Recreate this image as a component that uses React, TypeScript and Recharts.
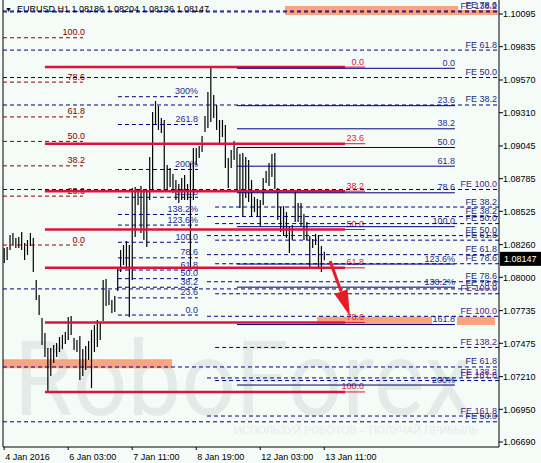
import React from 'react';
import { ComposedChart, Bar, XAxis, YAxis, ReferenceLine, ReferenceArea } from 'recharts';

const FONT = '"Liberation Sans", Arial, sans-serif';
const BG = '#f5fcf8';

// H1 bars (high / low)
const highs = [
  1.08233, 1.08241, 1.08337, 1.08353, 1.08313, 1.08321, 1.08361, 1.08273, 1.08297, 1.08353,
  1.08313, 1.07979, 1.07859, 1.07676, 1.07557, 1.07438, 1.07438, 1.07462, 1.07477, 1.07525,
  1.07541, 1.07565, 1.07684, 1.07692, 1.07517, 1.07501, 1.07533, 1.0743, 1.07454, 1.07493,
  1.07581, 1.07621, 1.0766, 1.07645, 1.07979, 1.07987, 1.07899, 1.0782, 1.07851, 1.08082,
  1.08217, 1.08257, 1.08289, 1.08257, 1.08711, 1.08719, 1.08703, 1.08727, 1.08695, 1.08679,
  1.08957, 1.09315, 1.09403, 1.09363, 1.09268, 1.09252, 1.08894, 1.0887, 1.08822, 1.08774,
  1.08743, 1.0879, 1.08814, 1.08743, 1.0891, 1.09029, 1.09029, 1.09045, 1.09124, 1.09284,
  1.09474, 1.09681, 1.09451, 1.09371, 1.09252, 1.09252, 1.09212, 1.08949, 1.09013, 1.09085,
  1.09029, 1.08981, 1.08989, 1.08957, 1.08933, 1.08774, 1.08639, 1.08623, 1.08615, 1.0879,
  1.08846, 1.0891, 1.08981, 1.08989, 1.08711, 1.0856, 1.08567, 1.0852, 1.08408, 1.08416,
  1.08695, 1.08591, 1.08591, 1.08504, 1.0844, 1.08329, 1.08305, 1.08345, 1.08337, 1.08249,
  1.08204,
];
const lows = [
  1.08114, 1.08138, 1.08217, 1.08257, 1.08233, 1.08233, 1.08217, 1.08138, 1.08178, 1.08249,
  1.08042, 1.0782, 1.077, 1.07462, 1.07366, 1.07088, 1.07215, 1.07318, 1.07366, 1.07406,
  1.0743, 1.07469, 1.07501, 1.07541, 1.07422, 1.07406, 1.07183, 1.07215, 1.07263, 1.07342,
  1.07119, 1.07406, 1.07446, 1.07501, 1.07652, 1.07772, 1.0778, 1.07716, 1.07724, 1.07891,
  1.08042, 1.08098, 1.08074, 1.07684, 1.07979, 1.08321, 1.08575, 1.08353, 1.08297, 1.08241,
  1.08615, 1.08695, 1.09212, 1.09172, 1.09148, 1.08695, 1.08695, 1.08719, 1.08671, 1.08615,
  1.08591, 1.08615, 1.08615, 1.08615, 1.08074, 1.08615, 1.08894, 1.08949, 1.08997, 1.09156,
  1.09188, 1.09236, 1.09268, 1.09172, 1.09069, 1.09116, 1.0887, 1.08711, 1.0887, 1.08933,
  1.08695, 1.08552, 1.08488, 1.08631, 1.08599, 1.0848, 1.0852, 1.08488, 1.08408, 1.08575,
  1.0875, 1.08727, 1.08798, 1.08703, 1.08456, 1.08361, 1.08329, 1.08313, 1.08194, 1.08297,
  1.0844, 1.0844, 1.08408, 1.08297, 1.08297, 1.08082, 1.08233, 1.08257, 1.08074, 1.08042,
  1.08136,
];

const dateTicks = [0, 22, 44, 66, 88, 110];
const dateLabels = ['4 Jan 2016', '6 Jan 03:00', '7 Jan 11:00', '8 Jan 19:00', '12 Jan 03:00', '13 Jan 11:00'];
const priceTicks = [1.10095, 1.09835, 1.0957, 1.0931, 1.09045, 1.08785, 1.08525, 1.0826, 1.08, 1.07735, 1.07475, 1.0721, 1.0695, 1.0669];
const lastPrice = 1.08147;
const headerText = 'EURUSD,H1 1.08186 1.08204 1.08136 1.08147';

// fibo grids: [first bar, last bar, price at 0%, price at 100%]
const leftFibo = [-0.4, 27.1, 1.08257, 1.09906];
const leftLevels = [0, 23.6, 38.2, 50, 61.8, 78.6, 100];
const leftLabels = ['0.0', '23.6', '38.2', '50.0', '61.8', '78.6', '100.0'];

const redFibo = [14.0, 124.0, 1.09673, 1.07088];
const redLevels = [0, 23.6, 38.2, 50, 61.8, 78.6, 100];
const redLabels = ['0.0', '23.6', '38.2', '50.0', '61.8', '78.6', '100.0'];

const navyFibo = [80.0, 154.9, 1.09663, 1.08403];
const navyLevels = [0, 23.6, 38.2, 50, 61.8, 78.6, 100, 123.6, 138.2, 161.8, 200];
const navyLabels = ['0.0', '23.6', '38.2', '50.0', '61.8', '78.6', '100.0', '123.6%', '138.2%', '161.8', '200%'];

const midFibo = [39.1, 66.6, 1.077, 1.08279];
const midLevels = [0, 23.6, 38.2, 50, 61.8, 78.6, 100, 123.6, 138.2, 161.8, 200, 261.8, 300];
const midLabels = ['0.0', '23.6', '38.2', '50.0', '61.8', '78.6', '100.0', '123.6%', '138.2%', '161.8', '200%', '261.8', '300%'];

// fibo expansions
const fe1 = [-0.4, 170.05, 1.08664, 1.10515];
const fe1Levels = [38.2, 50, 61.8, 78.6];
const fe2 = [-0.4, 170.05, 1.05002, 1.08699];
const fe2Levels = [50, 61.8, 78.6, 100, 138.2];
const fe3 = [69.7, 170.05, 1.08974, 1.0769];
const fe3Levels = [38.2, 50, 61.8, 78.6, 100, 138.2, 161.8];
const fe4 = [72.5, 170.05, 1.08986, 1.07869];
const fe4Levels = [38.2, 50, 61.8, 78.6, 100, 138.2, 161.8];

// target zones [x1, x2, top, bottom]
const zones = [
  [96.5, 156.0, 1.10159, 1.10127],
  [96.5, 169.7, 1.10127, 1.10087],
  [107.5, 147.0, 1.07687, 1.07621],
  [155.6, 168.7, 1.07687, 1.07621],
  [-0.4, 57.7, 1.07348, 1.07277],
];
const arrow = [112.0, 1.0813, 118.8, 1.07692];

const bars = highs.map((h, i) => ({ i, range: [lows[i], h] }));

const rows = (a: number[], levels: number[], labels: string[]) =>
  levels.map((lv, k) => ({ x1: a[0], x2: a[1], price: a[2] + ((a[3] - a[2]) * lv) / 100, label: labels[k], lv }));

const feLabels = (levels: number[]) => levels.map((l) => 'FE ' + l.toFixed(1));

const levelShape = (label: string, o: any) => (p: any) => {
  const { x1, y1, x2 } = p;
  return (
    <g>
      {o.thin ? (
        <>
          <line x1={x1} y1={y1} x2={x2 - 20} y2={y1} stroke={o.color} strokeWidth={o.width} />
          <line x1={x2 - 20} y1={y1} x2={x2} y2={y1} stroke={o.color} strokeWidth={1} />
        </>
      ) : (
        <line x1={x1} y1={y1} x2={x2} y2={y1} stroke={o.color} strokeWidth={o.width} strokeDasharray={o.dash} />
      )}
      <text x={x2 - o.pad} y={y1 - 2.5} textAnchor="end" fill={o.text} fontSize={9} fontFamily={FONT}>
        {label}
      </text>
    </g>
  );
};

const ArrowShape = (p: any) => {
  const { x1, y1, x2, y2 } = p;
  const dx = x2 - x1, dy = y2 - y1;
  const len = Math.hypot(dx, dy);
  const ux = dx / len, uy = dy / len;
  const hl = 26, hw = 7;
  const bx = x2 - ux * hl, by = y2 - uy * hl;
  return (
    <g>
      <line x1={x1} y1={y1} x2={bx} y2={by} stroke="#e51c23" strokeWidth={3} />
      <polygon points={`${x2},${y2} ${bx - uy * hw},${by + ux * hw} ${bx + uy * hw},${by - ux * hw}`} fill="#e51c23" />
    </g>
  );
};

const PriceBox = (p: any) => {
  const right = Math.max(p.x1, p.x2);
  return (
    <g>
      <rect x={right + 1} y={p.y1 - 7} width={42} height={14} fill="#000" />
      <text x={right + 5} y={p.y1 + 3.5} fill="#fff" fontSize={9} fontFamily={FONT}>
        {lastPrice.toFixed(5)}
      </text>
    </g>
  );
};

const Stick = (p: any) => {
  const { x, y, width, height } = p;
  const cx = x + width / 2;
  return <line x1={cx} x2={cx} y1={Math.min(y, y + height)} y2={Math.max(y, y + height)} stroke="#000" strokeWidth={1.2} />;
};

const XTick = (p: any) => {
  const k = dateTicks.indexOf(p.payload.value);
  return (
    <text x={p.x + 1} y={p.y + 7.5} fontSize={9} fontFamily={FONT} fill="#000">
      {dateLabels[k]}
    </text>
  );
};

const YTick = (p: any) => (
  <text x={p.x - 2} y={p.y + 3.3} fontSize={9} fontFamily={FONT} fill="#000">
    {Number(p.payload.value).toFixed(5)}
  </text>
);

const seg = (r: any) => [
  { x: r.x1, y: r.price },
  { x: r.x2, y: r.price },
];

export default function App() {
  const navy = '#000080';
  const purple = '#4b1c8c';
  const feStyle = (lv: number) => ({ color: navy, width: 1, dash: '4 3', text: lv >= 100 ? purple : '#1a2a80', pad: 2 });
  const feRows = [
    ...rows(fe1, fe1Levels, feLabels(fe1Levels)),
    ...rows(fe2, fe2Levels, feLabels(fe2Levels)),
    ...rows(fe3, fe3Levels, feLabels(fe3Levels)),
    ...rows(fe4, fe4Levels, feLabels(fe4Levels)),
  ];
  return (
    <div style={{ position: 'absolute', left: 0, top: 0, width: 541, height: 463, background: BG, overflow: 'hidden' }}>
      <svg width={541} height={463} style={{ position: 'absolute', left: 0, top: 0 }}>
        <text x={14} y={415} fontSize={104} fontFamily="Roboto, sans-serif" fill="#e3ebe8" textLength={458} lengthAdjust="spacingAndGlyphs">
          RoboForex
        </text>
        <text x={234} y={434} fontSize={11} fontFamily={FONT} fill="#e6edea" textLength={244} lengthAdjust="spacingAndGlyphs">
          ИСПОЛЬЗУЙ РОБОТОВ – ПОЛУЧАЙ ПРИБЫЛЬ
        </text>
      </svg>
      <div style={{ position: 'absolute', left: 0, top: 0 }}>
        <ComposedChart width={541} height={463} data={bars} margin={{ top: 0, right: 0, bottom: 0, left: 3 }}>
          <XAxis
            dataKey="i"
            type="number"
            domain={[-0.4, 170.05]}
            ticks={dateTicks}
            interval={0}
            allowDataOverflow
            height={16}
            tickSize={3}
            axisLine={{ stroke: '#000' }}
            tickLine={{ stroke: '#000' }}
            tick={<XTick />}
          />
          <YAxis
            orientation="right"
            type="number"
            domain={[1.066501, 1.102064]}
            ticks={priceTicks}
            interval={0}
            allowDataOverflow
            width={42}
            tickSize={4}
            axisLine={{ stroke: '#000' }}
            tickLine={{ stroke: '#000' }}
            tick={<YTick />}
          />
          <ReferenceLine x={-0.4} stroke="#000" ifOverflow="visible" />
          {rows(leftFibo, leftLevels, leftLabels).map((r, k) => (
            <ReferenceLine key={'l' + k} segment={seg(r)} ifOverflow="visible"
              shape={levelShape(r.label, { color: '#8b0000', width: 1, dash: '4 3', text: '#800000', pad: -2 })} />
          ))}
          {rows(midFibo, midLevels, midLabels).map((r, k) => (
            <ReferenceLine key={'m' + k} segment={seg(r)} ifOverflow="visible"
              shape={levelShape(r.label, { color: navy, width: 1, dash: '4 3', text: '#1f2f90', pad: 0 })} />
          ))}
          {rows(redFibo, redLevels, redLabels).map((r, k) => (
            <ReferenceLine key={'r' + k} segment={seg(r)} ifOverflow="visible"
              shape={levelShape(r.label, { color: '#dc143c', width: 2.5, thin: true, text: '#e0163f', pad: 1 })} />
          ))}
          {zones.map((z, k) => (
            <ReferenceArea key={'z' + k} x1={z[0]} x2={z[1]} y1={z[3]} y2={z[2]} fill="#f9a47e" fillOpacity={1} stroke="none" ifOverflow="visible" />
          ))}
          {rows(navyFibo, navyLevels, navyLabels).map((r, k) => (
            <ReferenceLine key={'n' + k} segment={seg(r)} ifOverflow="visible"
              shape={levelShape(r.label, { color: navy, width: 1, text: '#1f2f90', pad: 0 })} />
          ))}
          {feRows.map((r, k) => (
            <ReferenceLine key={'f' + k} segment={seg(r)} ifOverflow="visible" shape={levelShape(r.label, feStyle(r.lv))} />
          ))}
          <ReferenceLine segment={[{ x: arrow[0], y: arrow[1] }, { x: arrow[2], y: arrow[3] }]} ifOverflow="visible" shape={ArrowShape} />
          <ReferenceLine y={lastPrice} ifOverflow="visible" shape={PriceBox} />
          <Bar dataKey="range" barSize={1} shape={<Stick />} isAnimationActive={false} />
        </ComposedChart>
      </div>
      <div style={{ position: 'absolute', left: 5, top: 4, fontSize: 9, fontFamily: FONT, color: '#000', whiteSpace: 'pre', lineHeight: '11px' }}>
        <span style={{ fontSize: 7 }}>▼</span>  {headerText}
      </div>
    </div>
  );
}
